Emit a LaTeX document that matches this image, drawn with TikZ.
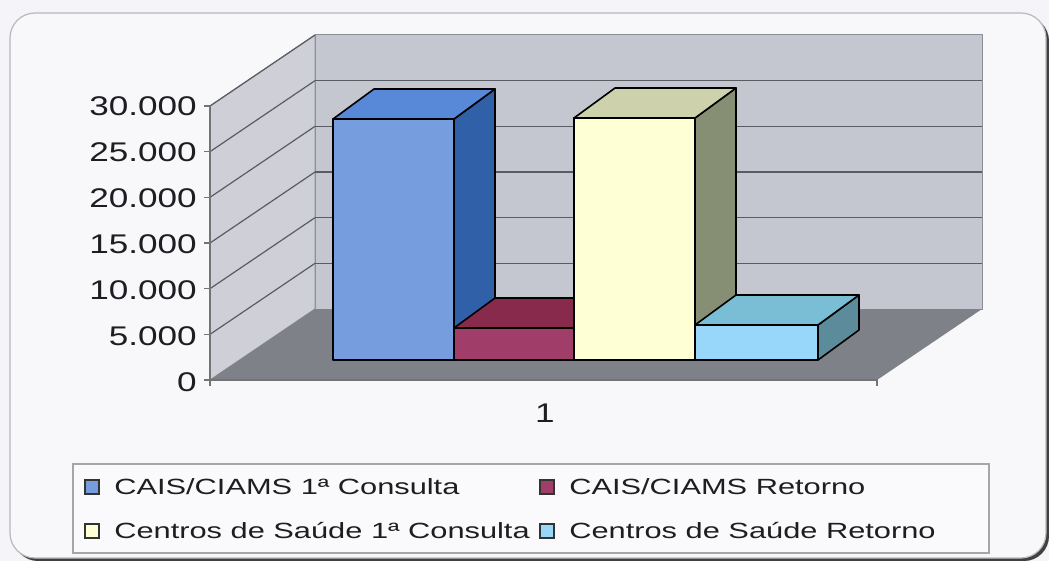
\documentclass[tikz,border=0pt]{standalone}
\usepackage{fontspec}
\setmainfont{Liberation Sans}
\definecolor{bgc}{RGB}{244,244,249}
\definecolor{backwall}{RGB}{196,198,208}
\definecolor{sidewall}{RGB}{206,207,215}
\definecolor{floorc}{RGB}{126,129,136}
\definecolor{gridc}{RGB}{90,92,100}
\definecolor{edgec}{RGB}{140,142,150}
\definecolor{bluefront}{RGB}{118,157,222}
\definecolor{bluetop}{RGB}{88,136,216}
\definecolor{blueside}{RGB}{48,96,168}
\definecolor{redfront}{RGB}{160,62,105}
\definecolor{redtop}{RGB}{135,42,76}
\definecolor{redside}{RGB}{110,30,60}
\definecolor{yelfront}{RGB}{255,255,214}
\definecolor{yeltop}{RGB}{205,210,172}
\definecolor{yelside}{RGB}{134,143,116}
\definecolor{cyafront}{RGB}{152,215,250}
\definecolor{cyatop}{RGB}{122,190,214}
\definecolor{cyaside}{RGB}{92,140,155}
\definecolor{textc}{RGB}{30,30,34}
\newcommand{\chartbar}[7]{% name, x, w, top y, front, top, side
  \filldraw[barline, fill=#7] (#2+#3,360) -- ++(41,-30) -- (#2+#3+41,#4-30) -- (#2+#3,#4) -- cycle;
  \filldraw[barline, fill=#6] (#2,#4) -- ++(41,-30) -- ++(#3,0) -- (#2+#3,#4) -- cycle;
  \filldraw[barline, fill=#5] (#2,360) rectangle (#2+#3,#4);
  \coordinate (#1) at (#2,360);
}
\begin{document}
\begin{tikzpicture}[x=1pt,y=-1pt,
  barline/.style={draw=black, line width=1.6pt, line join=round},
  gridline/.style={draw=gridc, line width=1.2pt},
  axislab/.style={font=\fontsize{27}{32}\selectfont, xscale=1.3, text=textc, inner sep=0pt},
  leglab/.style={font=\fontsize{22}{26}\selectfont, xscale=1.4, text=textc, inner sep=0pt, anchor=base west},
  swatch/.style={draw=black!80, line width=1.1pt, minimum size=14pt, inner sep=0pt}]
\useasboundingbox (0,0) rectangle (1049,561);
\fill[bgc] (0,0) rectangle (1049,561);
% outer frame
\fill[rounded corners=25, fill=black!75] (13,16) rectangle (1049,561);
\filldraw[rounded corners=25, fill=bgc!60!white, draw=gray!55, line width=1.2pt] (10,13) rectangle (1046,558);
% walls and floor
\filldraw[fill=backwall, draw=edgec, line width=1pt] (315,35) rectangle (982,309);
\filldraw[fill=sidewall, draw=edgec, line width=1pt] (210,106) -- (315,35) -- (315,309) -- (210,380) -- cycle;
\fill[floorc] (210,380) -- (315,309) -- (982,309) -- (877,380) -- cycle;
% gridlines
\foreach \k in {1,...,5} {
  \draw[gridline] (315,{35+45.667*\k}) -- (982,{35+45.667*\k});
  \draw[gridline] (210,{106+45.667*\k}) -- (315,{35+45.667*\k});
}
\draw[gridline] (210,106) -- (315,35);
% axes
\draw[draw=gray!90!black, line width=1.2pt] (210,106) -- (210,386);
\draw[draw=gray!90!black, line width=1.2pt] (210,380) -- (877,380) -- (877,386);
\foreach \k in {0,...,6} {
  \draw[draw=gray!90!black, line width=1.2pt] (204,{106+45.667*\k}) -- (210,{106+45.667*\k});
}
% bars
\chartbar{b1}{333}{121}{119}{bluefront}{bluetop}{blueside}
\chartbar{b2}{454}{120}{328}{redfront}{redtop}{redside}
\chartbar{b3}{574}{121}{118}{yelfront}{yeltop}{yelside}
\chartbar{b4}{695}{123}{325}{cyafront}{cyatop}{cyaside}
% axis labels
\node[axislab, anchor=base east] (l30) at (197,116) {30.000};
\node[axislab, anchor=base east] (l25) at (197,162) {25.000};
\node[axislab, anchor=base east] (l20) at (197,208) {20.000};
\node[axislab, anchor=base east] (l15) at (197,254) {15.000};
\node[axislab, anchor=base east] (l10) at (197,299) {10.000};
\node[axislab, anchor=base east] (l5) at (197,345) {5.000};
\node[axislab, anchor=base east] (l0) at (197,391) {0};
\node[axislab, anchor=base] (cat) at (545,422) {1};
% legend
\filldraw[fill=bgc!50!white, draw=gray!70, line width=1.2pt] (73,464) rectangle (989,553);
\node[swatch, fill=bluefront] (s1) at (92,487) {};
\node[leglab] (t1) at (114,494) {CAIS/CIAMS 1ª Consulta};
\node[swatch, fill=redfront] (s2) at (547,487) {};
\node[leglab] (t2) at (569,494) {CAIS/CIAMS Retorno};
\node[swatch, fill=yelfront] (s3) at (92,531) {};
\node[leglab] (t3) at (114,538) {Centros de Saúde 1ª Consulta};
\node[swatch, fill=cyafront] (s4) at (547,531) {};
\node[leglab] (t4) at (569,538) {Centros de Saúde Retorno};
\end{tikzpicture}
\end{document}
